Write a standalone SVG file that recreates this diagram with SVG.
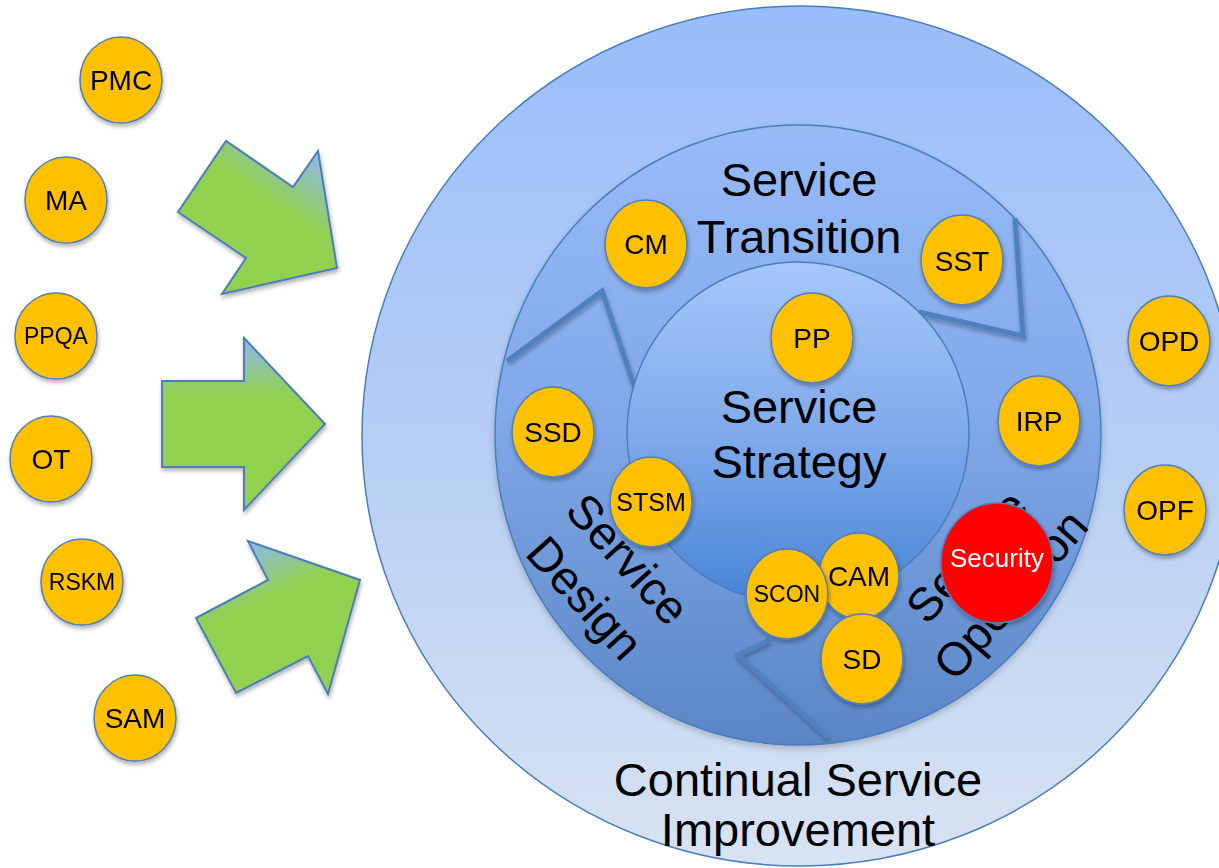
<svg xmlns="http://www.w3.org/2000/svg" width="1219" height="868" viewBox="0 0 1219 868">
  <defs>
    <style>
      .lbl { font-family: "Liberation Sans", Arial, sans-serif; fill: #000; text-anchor: middle; }
      .big { font-size: 47px; }
      .node { fill: #ffc000; stroke: #4f7fbd; stroke-width: 1.5; }
      .alert { fill: #ff0000; stroke: #4f7fbd; stroke-width: 1.5; }
      .ring { stroke: #4a7ebb; stroke-width: 1.5; }
      .flow { fill: none; stroke: #4f80bf; stroke-width: 5; stroke-linejoin: miter; }
      .arrow { stroke: #4a7ebb; stroke-width: 2; }
    </style>
    <filter id="shadow" x="-20%" y="-20%" width="140%" height="150%">
      <feDropShadow dx="1" dy="3" stdDeviation="2" flood-color="#000" flood-opacity="0.3"/>
    </filter>
    <filter id="softShadow" x="-10%" y="-10%" width="120%" height="120%">
      <feDropShadow dx="0" dy="3" stdDeviation="3" flood-color="#000" flood-opacity="0.2"/>
    </filter>
    <linearGradient id="gOuter" x1="0" y1="0" x2="0" y2="1">
      <stop offset="0" stop-color="#99bdfb"/>
      <stop offset="0.5" stop-color="#b6cef4"/>
      <stop offset="1" stop-color="#d8e3f2"/>
    </linearGradient>
    <linearGradient id="gMiddle" x1="0" y1="0" x2="0" y2="1">
      <stop offset="0" stop-color="#97bbf7"/>
      <stop offset="0.45" stop-color="#82a9ea"/>
      <stop offset="1" stop-color="#5a86c6"/>
    </linearGradient>
    <linearGradient id="gInner" x1="0" y1="0" x2="0" y2="1">
      <stop offset="0" stop-color="#a6c7fb"/>
      <stop offset="0.5" stop-color="#80aaeb"/>
      <stop offset="1" stop-color="#4784d6"/>
    </linearGradient>
    <linearGradient id="gArrow1" gradientUnits="userSpaceOnUse" x1="318" y1="151" x2="250" y2="250">
      <stop offset="0" stop-color="#8db8f0"/>
      <stop offset="0.55" stop-color="#92d050"/>
      <stop offset="1" stop-color="#92d050"/>
    </linearGradient>
    <linearGradient id="gArrow2" gradientUnits="userSpaceOnUse" x1="0" y1="338" x2="0" y2="440">
      <stop offset="0" stop-color="#8db8f0"/>
      <stop offset="0.55" stop-color="#92d050"/>
      <stop offset="1" stop-color="#92d050"/>
    </linearGradient>
    <linearGradient id="gArrow3" gradientUnits="userSpaceOnUse" x1="248" y1="541" x2="290" y2="640">
      <stop offset="0" stop-color="#8db8f0"/>
      <stop offset="0.55" stop-color="#92d050"/>
      <stop offset="1" stop-color="#92d050"/>
    </linearGradient>
  </defs>

  <rect width="1219" height="868" fill="#ffffff"/>

  <!-- lifecycle rings -->
  <g id="ring-csi">
    <ellipse class="ring" cx="800" cy="436" rx="438" ry="430" fill="url(#gOuter)"/>
  </g>
  <g id="ring-lifecycle">
    <ellipse class="ring" cx="798" cy="435" rx="303" ry="310" fill="url(#gMiddle)" filter="url(#softShadow)"/>
  </g>

  <!-- cycle chevrons inside the lifecycle ring -->
  <g id="connectors" filter="url(#shadow)">
    <polyline class="flow" points="507,361 602,291 636,391"/>
    <polyline class="flow" points="1015,218 1023,336 919,312"/>
    <polyline class="flow" points="770,640 738,655 828,737"/>
  </g>

  <g id="ring-strategy">
    <circle class="ring" cx="798" cy="433" r="171" fill="url(#gInner)"/>
  </g>

  <!-- phase titles -->
  <g id="titles">
    <text class="lbl big" x="799" y="196">Service</text>
    <text class="lbl big" x="799" y="253">Transition</text>
    <text class="lbl big" x="799" y="423">Service</text>
    <text class="lbl big" x="799" y="478">Strategy</text>
    <text class="lbl big" x="798" y="796">Continual Service</text>
    <text class="lbl big" x="798" y="846">Improvement</text>
    <text class="lbl big" transform="translate(607,578) rotate(48)"><tspan x="0" y="-12">Service</tspan><tspan x="0" y="46">Design</tspan></text>
    <text class="lbl big" transform="translate(988,575) rotate(-49)"><tspan x="0" y="-12">Service</tspan><tspan x="0" y="46">Operation</tspan></text>
  </g>

  <!-- inflow arrows -->
  <g id="arrows" filter="url(#shadow)">
    <polygon class="arrow" fill="url(#gArrow1)" points="178,212 226,141 293,187 318,151 337,268 222,294 246,258"/>
    <polygon class="arrow" fill="url(#gArrow2)" points="162,381 244,381 244,338 325,424 244,510 244,467 162,467"/>
    <polygon class="arrow" fill="url(#gArrow3)" points="196,618 268,580 248,541 360,580 328,694 308,656 236,693"/>
  </g>

  <!-- process areas -->
  <g id="PMC" filter="url(#shadow)"><ellipse class="node" cx="121" cy="80" rx="41" ry="43"/><text class="lbl" x="121" y="90" font-size="28">PMC</text></g>
  <g id="MA" filter="url(#shadow)"><ellipse class="node" cx="66" cy="200" rx="41" ry="43"/><text class="lbl" x="66" y="210" font-size="28">MA</text></g>
  <g id="PPQA" filter="url(#shadow)"><ellipse class="node" cx="56" cy="336" rx="41" ry="43"/><text class="lbl" x="56" y="344" font-size="23">PPQA</text></g>
  <g id="OT" filter="url(#shadow)"><ellipse class="node" cx="51" cy="459" rx="41" ry="43"/><text class="lbl" x="51" y="469" font-size="28">OT</text></g>
  <g id="RSKM" filter="url(#shadow)"><ellipse class="node" cx="82" cy="582" rx="41" ry="43"/><text class="lbl" x="82" y="590" font-size="23">RSKM</text></g>
  <g id="SAM" filter="url(#shadow)"><ellipse class="node" cx="135" cy="718" rx="41" ry="43"/><text class="lbl" x="135" y="728" font-size="28">SAM</text></g>

  <g id="CM" filter="url(#shadow)"><ellipse class="node" cx="646" cy="244" rx="41" ry="44"/><text class="lbl" x="646" y="254" font-size="28">CM</text></g>
  <g id="SST" filter="url(#shadow)"><ellipse class="node" cx="962" cy="260" rx="41" ry="45"/><text class="lbl" x="962" y="271" font-size="28">SST</text></g>
  <g id="PP" filter="url(#shadow)"><ellipse class="node" cx="812" cy="338" rx="41" ry="45"/><text class="lbl" x="812" y="348" font-size="28">PP</text></g>
  <g id="IRP" filter="url(#shadow)"><ellipse class="node" cx="1039" cy="421" rx="41" ry="45"/><text class="lbl" x="1039" y="431" font-size="28">IRP</text></g>
  <g id="SSD" filter="url(#shadow)"><ellipse class="node" cx="553" cy="432" rx="41" ry="45"/><text class="lbl" x="553" y="442" font-size="28">SSD</text></g>
  <g id="OPD" filter="url(#shadow)"><ellipse class="node" cx="1169" cy="341" rx="41" ry="45"/><text class="lbl" x="1169" y="351" font-size="28">OPD</text></g>
  <g id="OPF" filter="url(#shadow)"><ellipse class="node" cx="1165" cy="510" rx="41" ry="45"/><text class="lbl" x="1165" y="520" font-size="28">OPF</text></g>
  <g id="STSM" filter="url(#shadow)"><ellipse class="node" cx="651" cy="502" rx="41" ry="45"/><text class="lbl" x="651" y="511" font-size="25">STSM</text></g>
  <g id="CAM" filter="url(#shadow)"><ellipse class="node" cx="859" cy="576" rx="40" ry="43"/><text class="lbl" x="859" y="586" font-size="28">CAM</text></g>
  <g id="SCON" filter="url(#shadow)"><ellipse class="node" cx="787" cy="594" rx="41" ry="45"/><text class="lbl" x="787" y="602" font-size="23">SCON</text></g>
  <g id="SD" filter="url(#shadow)"><ellipse class="node" cx="862" cy="659" rx="41" ry="45"/><text class="lbl" x="862" y="669" font-size="28">SD</text></g>
  <g id="Security" filter="url(#shadow)"><ellipse class="alert" cx="997" cy="563" rx="56" ry="60"/><text class="lbl" x="997" y="567" font-size="26" style="fill:#ffffff">Security</text></g>
</svg>
